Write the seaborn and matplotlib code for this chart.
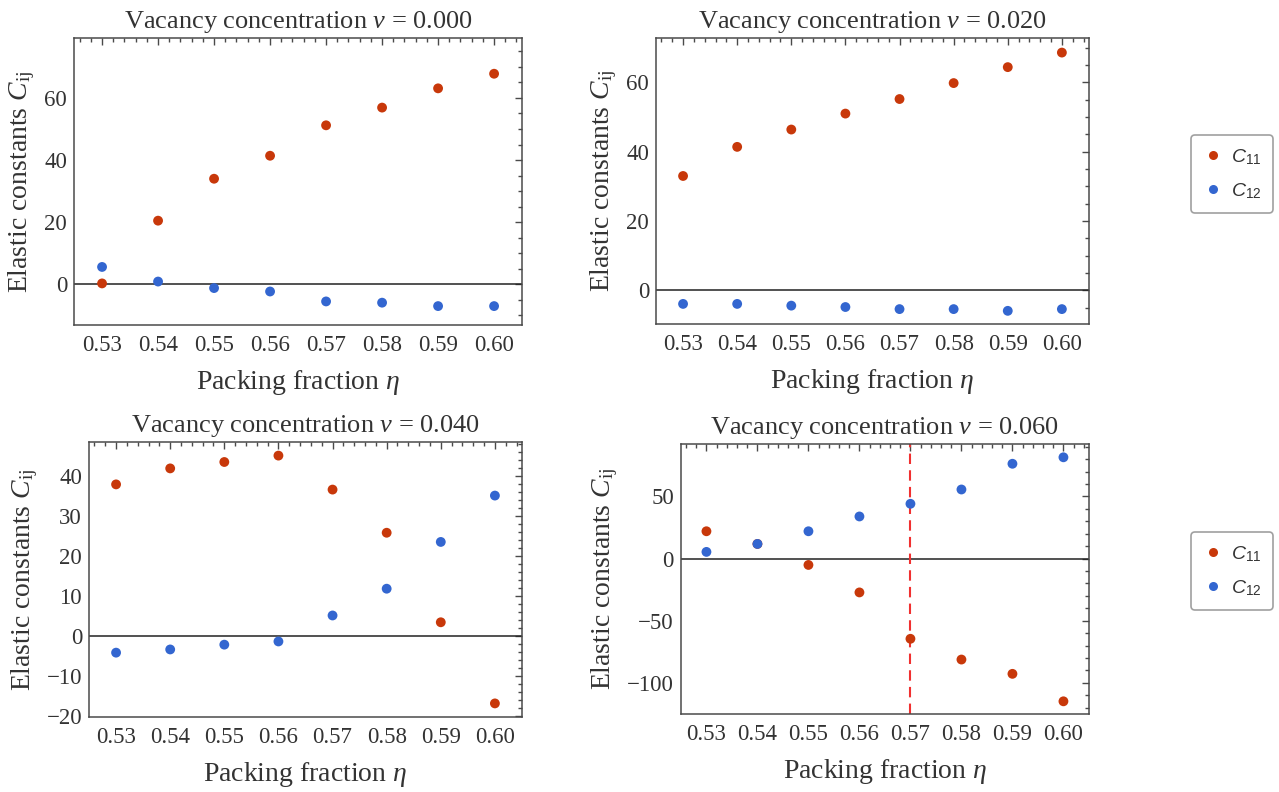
import numpy as np
import matplotlib
matplotlib.use('Agg')
import matplotlib.pyplot as plt
from matplotlib.ticker import MultipleLocator, FormatStrFormatter
from matplotlib.lines import Line2D
import pandas as pd
import seaborn as sns

eta = [0.53, 0.54, 0.55, 0.56, 0.57, 0.58, 0.59, 0.60]
vacancies = [0.000, 0.020, 0.040, 0.060]

c11_v000 = [0.3, 20.5, 34.0, 41.4, 51.2, 56.9, 63.1, 67.8]
c12_v000 = [5.6, 0.9, -1.2, -2.3, -5.5, -5.9, -7.0, -7.0]
c11_v020 = [33.0, 41.4, 46.4, 51.0, 55.2, 59.8, 64.4, 68.6]
c12_v020 = [-3.9, -3.9, -4.4, -4.8, -5.4, -5.4, -5.9, -5.4]
c11_v040 = [38.0, 42.0, 43.6, 45.2, 36.7, 25.9, 3.5, -16.8]
c12_v040 = [-4.1, -3.3, -2.1, -1.3, 5.2, 11.9, 23.6, 35.2]
c11_v060 = [22.0, 11.8, -5.1, -27.2, -64.5, -81.2, -92.7, -114.8]
c12_v060 = [5.4, 11.8, 22.0, 33.9, 44.1, 55.6, 76.3, 81.5]

eta_critical = 0.57  # only in the v = 0.060 panel

c11_all = [c11_v000, c11_v020, c11_v040, c11_v060]
c12_all = [c12_v000, c12_v020, c12_v040, c12_v060]

red = '#C8380A'
blue = '#3366D0'
text_col = '#333333'
frame_col = '#4a4a4a'

sns.set_theme(style='white')
plt.rcParams['font.family'] = ['Liberation Serif', 'DejaVu Serif']
plt.rcParams['mathtext.fontset'] = 'custom'
plt.rcParams['mathtext.rm'] = 'Liberation Serif'
plt.rcParams['mathtext.it'] = 'Liberation Serif:italic'
plt.rcParams['mathtext.sf'] = 'Liberation Sans:italic'
plt.rcParams['text.color'] = text_col
plt.rcParams['axes.labelcolor'] = text_col
plt.rcParams['xtick.color'] = frame_col
plt.rcParams['ytick.color'] = frame_col
plt.rcParams['xtick.labelcolor'] = text_col
plt.rcParams['ytick.labelcolor'] = text_col

rows = []
for v, c11, c12 in zip(vacancies, c11_all, c12_all):
    for e, a, b in zip(eta, c11, c12):
        rows.append({'v': v, 'eta': e, 'C': a, 'comp': 'C11'})
        rows.append({'v': v, 'eta': e, 'C': b, 'comp': 'C12'})
df = pd.DataFrame(rows)

fig = plt.figure(figsize=(12.79, 7.92), dpi=100)

# axes boxes [left, bottom, width, height] in figure fractions
boxes = [
    [0.0579, 0.5896, 0.3503, 0.3624],
    [0.5129, 0.5909, 0.3385, 0.3611],
    [0.0696, 0.0947, 0.3385, 0.3472],
    [0.5324, 0.0985, 0.3190, 0.3409],
]
ylims = [(-13.1, 79.3), (-9.7, 72.8), (-20.2, 48.6), (-125, 92.2)]
ymajor = [20, 20, 10, 50]
yminor = [5, 5, 2, 10]

for i, v in enumerate(vacancies):
    ax = fig.add_axes(boxes[i])
    sub = df[df['v'] == v]
    ax.axhline(0, color='#222222', lw=1.1, zorder=1)
    if v == 0.060:
        ax.axvline(eta_critical, color='#F03030', lw=1.5, ls=(0, (5, 3)), zorder=1)
    sns.scatterplot(data=sub, x='eta', y='C', hue='comp',
                    palette={'C11': red, 'C12': blue}, hue_order=['C11', 'C12'],
                    s=50, edgecolor='none', legend=False, ax=ax, zorder=3)
    ax.set_xlim(0.525, 0.605)
    ax.set_ylim(*ylims[i])
    ax.set_xticks(eta)
    ax.xaxis.set_major_formatter(FormatStrFormatter('%.2f'))
    ax.xaxis.set_minor_locator(MultipleLocator(0.002))
    ax.yaxis.set_major_locator(MultipleLocator(ymajor[i]))
    ax.yaxis.set_minor_locator(MultipleLocator(yminor[i]))
    ax.tick_params(which='both', direction='in', top=True, right=True,
                   labelsize=16.5, width=1.0)
    ax.tick_params(which='major', length=5, pad=7)
    ax.tick_params(axis='y', which='major', pad=5)
    ax.tick_params(which='minor', length=2.8)
    for sp in ax.spines.values():
        sp.set_color(frame_col)
        sp.set_linewidth(1.1)
    ax.set_xlabel(r'Packing fraction $\eta$', fontsize=20, labelpad=9)
    ax.set_ylabel(r'Elastic constants $C_{\mathrm{ij}}$', fontsize=20, labelpad=5)
    ax.set_title(r'Vacancy concentration $\nu$ = %.3f' % v, fontsize=19, pad=7)
    ax.grid(False)

handles = [
    Line2D([], [], ls='none', marker='o', ms=6.5, mfc=red, mec='none'),
    Line2D([], [], ls='none', marker='o', ms=6.5, mfc=blue, mec='none'),
]
labels = [r'$\mathsf{C}_{\mathdefault{11}}$', r'$\mathsf{C}_{\mathdefault{12}}$']
for yc in [1 - 174 / 792, 1 - 571 / 792]:
    leg = fig.legend(handles, labels, loc='center', bbox_to_anchor=(1232 / 1279, yc),
                     frameon=True, fancybox=True, handletextpad=0.35, handlelength=1.1,
                     borderpad=0.6, labelspacing=0.75,
                     prop={'family': 'Liberation Sans', 'size': 14})
    leg.get_frame().set_edgecolor('#888888')
    leg.get_frame().set_linewidth(1.2)

fig.savefig('out.png', dpi=100)
